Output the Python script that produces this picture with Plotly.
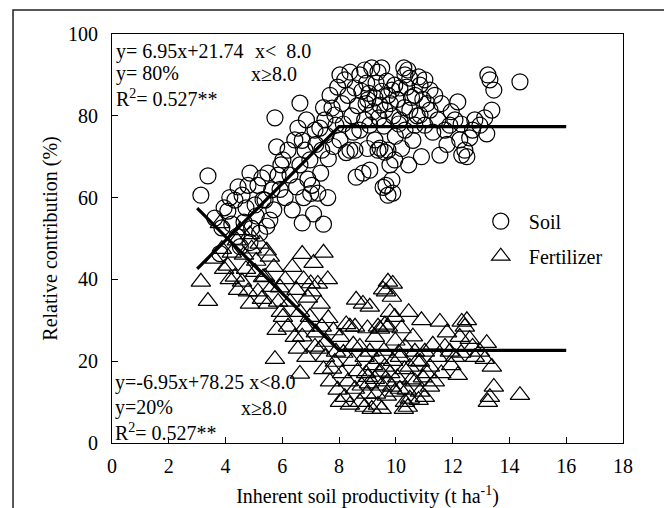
import plotly.graph_objects as go

# ---------------------------------------------------------------------------
# data (x = inherent soil productivity, t/ha)
productivity = [
    3.13, 3.38, 3.62, 3.80, 3.87, 3.95,
    4.08, 4.15, 4.22, 4.33, 4.40, 4.44, 4.52, 4.58, 4.65, 4.72, 4.79, 4.86, 4.86, 4.92,
    5.04, 5.08, 5.14, 5.20, 5.28, 5.32, 5.39, 5.45, 5.49, 5.56, 5.63, 5.70, 5.74, 5.80, 5.85, 5.92, 5.95,
    6.02, 6.10, 6.20, 6.27, 6.35, 6.44, 6.50, 6.55, 6.62, 6.62, 6.70, 6.70, 6.75, 6.80, 6.85, 6.90, 6.97, 7.00,
    7.04, 7.10, 7.15, 7.18, 7.25, 7.32, 7.35, 7.39, 7.45, 7.45, 7.50, 7.54, 7.60, 7.62, 7.68, 7.75, 7.80, 7.85, 7.89, 7.95,
    8.03, 8.03, 8.10, 8.15, 8.20, 8.25, 8.31, 8.38, 8.38, 8.45, 8.50, 8.56, 8.56, 8.60, 8.65, 8.73, 8.73, 8.80, 8.84,
    8.90, 8.90, 8.95, 8.97, 9.00, 9.01,
    9.05, 9.08, 9.08, 9.15, 9.20, 9.26, 9.26, 9.30, 9.37, 9.37, 9.40, 9.44, 9.44, 9.50, 9.50, 9.55, 9.58, 9.61, 9.61,
    9.65, 9.68, 9.72, 9.72, 9.72, 9.79, 9.80, 9.86, 9.86, 9.89, 9.90, 9.96, 9.96, 9.98,
    10.05, 10.10, 10.14, 10.14, 10.20, 10.28, 10.30, 10.32, 10.32, 10.38, 10.42, 10.45, 10.49, 10.49, 10.55, 10.60,
    10.67, 10.67, 10.75, 10.80, 10.85, 10.85, 10.90, 10.95,
    11.02, 11.02, 11.10, 11.20, 11.20, 11.30, 11.37, 11.48, 11.55, 11.60, 11.73, 11.80, 11.90, 11.95,
    12.08, 12.18, 12.25, 12.30, 12.32, 12.43, 12.50, 12.60, 12.70, 12.78, 12.96,
    13.13, 13.20, 13.24, 13.31, 13.38, 13.45, 14.37,
]

soil = [
    60.6, 65.3, 55.0, 46.3, 52.6, 57.5,
    56.7, 60.0, 53.5, 59.4, 50.5, 62.6, 48.0, 60.6, 54.0, 57.5, 63.0, 66.0, 49.0, 52.5,
    58.2, 55.5, 63.0, 51.3, 64.8, 59.5, 59.4, 53.0, 66.0, 54.5, 61.9, 57.0, 79.5, 72.4, 65.5, 62.0, 68.0,
    69.2, 60.0, 71.6, 65.5, 57.0, 74.1, 62.6, 77.0, 83.1, 68.0, 53.8, 74.0, 60.0, 71.6, 79.0, 64.5, 69.2, 61.0,
    63.0, 56.0, 76.5, 73.0, 61.1, 77.0, 66.0, 71.6, 82.0, 53.5, 79.0, 75.3, 60.0, 69.5, 85.0, 81.9, 72.5, 80.2, 77.7, 87.0,
    90.0, 74.1, 83.0, 78.0, 88.8, 71.0, 85.0, 90.7, 71.6, 80.0, 76.0, 86.8, 71.6, 65.0, 82.5, 90.0, 76.5, 86.0, 66.0,
    91.2, 79.0, 83.0, 88.0, 72.0, 83.9,
    85.5, 77.7, 66.7, 91.7, 81.0, 84.4, 74.1, 88.0, 90.7, 71.6, 79.5, 82.6, 72.1, 91.7, 86.0, 62.5, 77.5, 81.4, 71.1,
    63.0, 88.5, 85.0, 60.6, 71.6, 68.0, 83.0, 86.3, 64.3, 61.1, 80.0, 87.5, 69.2, 75.0,
    84.0, 78.0, 86.8, 79.0, 72.0, 91.7, 82.0, 90.0, 76.5, 87.0, 91.2, 68.0, 89.2, 81.4, 84.5, 74.0,
    85.0, 77.7, 80.0, 89.5, 87.5, 80.2, 70.0, 84.0,
    88.8, 77.7, 83.0, 86.3, 81.4, 76.0, 85.0, 79.0, 70.4, 83.0, 76.5, 73.0, 77.7, 81.0,
    79.0, 83.4, 74.1, 78.0, 70.4, 71.6, 70.0, 74.6, 76.5, 79.0, 77.7,
    79.5, 75.6, 90.0, 88.8, 81.4, 86.3, 88.3,
]

fertilizer = [
    39.4, 34.7, 45.0, 53.7, 47.4, 42.5,
    43.3, 40.0, 46.5, 40.6, 49.5, 37.4, 52.0, 39.4, 46.0, 42.5, 37.0, 34.0, 51.0, 47.5,
    41.8, 44.5, 37.0, 48.7, 35.2, 40.5, 40.6, 47.0, 34.0, 45.5, 38.1, 43.0, 20.5, 27.6, 34.5, 38.0, 32.0,
    30.8, 40.0, 28.4, 34.5, 43.0, 25.9, 37.4, 23.0, 16.9, 32.0, 46.2, 26.0, 40.0, 28.4, 21.0, 35.5, 30.8, 39.0,
    37.0, 44.0, 23.5, 27.0, 38.9, 23.0, 34.0, 28.4, 18.0, 46.5, 21.0, 24.7, 40.0, 30.5, 15.0, 18.1, 27.5, 19.8, 22.3, 13.0,
    10.0, 25.9, 17.0, 22.0, 11.2, 29.0, 15.0, 9.3, 28.4, 20.0, 24.0, 13.2, 28.4, 35.0, 17.5, 10.0, 23.5, 14.0, 34.0,
    8.8, 21.0, 17.0, 12.0, 28.0, 16.1,
    14.5, 22.3, 33.3, 8.3, 19.0, 15.6, 25.9, 12.0, 9.3, 28.4, 20.5, 17.4, 27.9, 8.3, 14.0, 37.5, 22.5, 18.6, 28.9,
    37.0, 11.5, 15.0, 39.4, 28.4, 32.0, 17.0, 13.7, 35.7, 38.9, 20.0, 12.5, 30.8, 25.0,
    16.0, 22.0, 13.2, 21.0, 28.0, 8.3, 18.0, 10.0, 23.5, 13.0, 8.8, 32.0, 10.8, 18.6, 15.5, 26.0,
    15.0, 22.3, 20.0, 10.5, 12.5, 19.8, 30.0, 16.0,
    11.2, 22.3, 17.0, 13.7, 18.6, 24.0, 15.0, 21.0, 29.6, 17.0, 23.5, 27.0, 22.3, 19.0,
    21.0, 16.6, 25.9, 22.0, 29.6, 28.4, 30.0, 25.4, 23.5, 21.0, 22.3,
    20.5, 24.4, 10.0, 11.2, 18.6, 13.7, 11.7,
]

# piecewise fits
fit_x = [3.0, 8.0, 16.0]
soil_fit = [42.59, 77.34, 77.34]
fert_fit = [57.40, 22.65, 22.65]

FONT = 'Liberation Serif, Times New Roman, serif'


#------------------------------------------------------------------------------------------------
fig = go.Figure()

fig.add_trace(go.Scatter(
    name   = 'Soil',
    x      = productivity,
    y      = soil,
    mode   = 'markers',
    marker = dict(symbol='circle-open', size=16, color='black', line=dict(width=1.2, color='black')),
    legendgroup = 'a',
))

fig.add_trace(go.Scatter(
    name   = 'Fertilizer',
    x      = productivity,
    y      = fertilizer,
    mode   = 'markers',
    marker = dict(symbol='triangle-up-open', size=17, color='black', line=dict(width=1.2, color='black')),
    legendgroup = 'b',
))

for fit in [soil_fit, fert_fit]:
    fig.add_trace(go.Scatter(
        x          = fit_x,
        y          = fit,
        mode       = 'lines',
        line       = dict(color='black', width=3.2),
        showlegend = False,
        hoverinfo  = 'skip',
    ))

# equation boxes
eq_text = [
    (0.004, 0.958, 'y= 6.95x+21.74'),
    (0.276, 0.958, 'x<  8.0'),
    (0.004, 0.903, 'y= 80%'),
    (0.268, 0.903, 'x≥8.0'),
    (0.004, 0.844, 'R<sup>2</sup>= 0.527**'),
    (0.002, 0.147, 'y=-6.95x+78.25 x<8.0'),
    (0.002, 0.086, 'y=20%'),
    (0.249, 0.086, 'x≥8.0'),
    (0.002, 0.027, 'R<sup>2</sup>= 0.527**'),
]
for x, y, text in eq_text:
    fig.add_annotation(
        x=x, y=y, xref='paper', yref='paper',
        text=text, showarrow=False,
        xanchor='left', yanchor='middle',
        font=dict(family=FONT, size=20, color='black'),
    )

# y axis title, placed by hand
fig.add_annotation(
    x=-0.121, y=0.5, xref='paper', yref='paper',
    text='Relative contribution (%)', showarrow=False,
    textangle=-90, xanchor='center', yanchor='middle',
    font=dict(family=FONT, size=20, color='black'),
)

# outer frame
fig.add_shape(
    type='rect', xref='paper', yref='paper',
    x0=-0.1937, x1=1.092, y0=-0.2, y1=1.0587,
    line=dict(color='#222222', width=1.5),
)

# the page adds an 8px body margin, so the figure is a little smaller than the window
fig.update_layout(
    width  = 664,
    height = 500,
    margin = dict(l=104, r=49, t=26, b=65),
    paper_bgcolor = 'white',
    plot_bgcolor  = 'white',
    font   = dict(family=FONT, size=20, color='black'),
    legend = dict(
        x=0.706, y=0.59, xanchor='left', yanchor='top',
        bgcolor='rgba(0,0,0,0)',
        font=dict(family=FONT, size=20),
        tracegroupgap=6,
        itemwidth=46,
    ),
    xaxis = dict(
        range=[0, 18], tickvals=list(range(0, 19, 2)),
        ticks='inside', ticklen=6, tickcolor='black',
        showline=True, linecolor='black', linewidth=1.2, mirror=True,
        showgrid=False, zeroline=False, automargin=False,
        ticklabelstandoff=5,
        tickfont=dict(family=FONT, size=20),
        title=dict(text='Inherent soil productivity (t ha<sup>-1</sup>)',
                   font=dict(family=FONT, size=20)),
    ),
    yaxis = dict(
        range=[0, 100], tickvals=list(range(0, 101, 20)),
        ticks='inside', ticklen=6, tickcolor='black',
        showline=True, linecolor='black', linewidth=1.2, mirror=True,
        showgrid=False, zeroline=False, automargin=False,
        ticklabelstandoff=9,
        tickfont=dict(family=FONT, size=20),
    ),
)

fig.write_html("out.html")
